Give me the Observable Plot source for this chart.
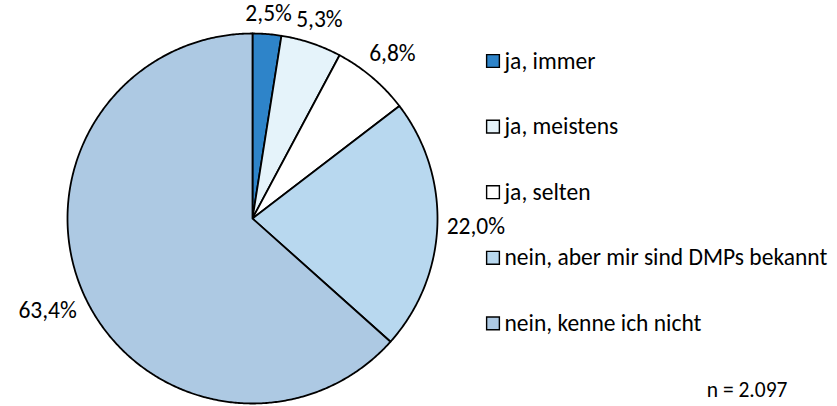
<!DOCTYPE html>
<html><head><meta charset="utf-8">
<script src="https://cdn.jsdelivr.net/npm/d3@7"></script>
<script src="https://cdn.jsdelivr.net/npm/@observablehq/plot@0.6"></script>
<style>
body{margin:0;background:#fff;}
#chart svg{display:block;}
</style></head>
<body><div id="chart"></div>
<script>
// ---- data ----
const categories = ["ja, immer", "ja, meistens", "ja, selten", "nein, aber mir sind DMPs bekannt", "nein, kenne ich nicht"];
const values = [2.5, 5.3, 6.8, 22.0, 63.4];
const valueLabels = ["2,5%", "5,3%", "6,8%", "22,0%", "63,4%"];
const sliceColors = ["#2e84c9", "#e5f3fa", "#ffffff", "#b8d8ef", "#adc9e3"];
const caption = "n = 2.097";

// ---- layout ----
const W = 837, H = 406;
const FONT = "Carlito, Calibri, Lato, sans-serif";
const FS = 23.5;
const pie = {cx: 252, cy: 218, r: 185, gap: 9};
const legend = {x: 492.5, textX: 504, y0: 60.5, step: 65.6};

const total = d3.sum(values);
let acc = 0;
const slices = values.map((v, i) => {
  const a0 = acc / total * 2 * Math.PI;
  acc += v;
  const a1 = acc / total * 2 * Math.PI;
  return {cat: categories[i], color: sliceColors[i], label: valueLabels[i], a0, a1};
});

const px = (a, r) => pie.cx + r * Math.sin(a);
const py = (a, r) => pie.cy - r * Math.cos(a);

const points = [];
for (const s of slices) {
  points.push({cat: s.cat, color: s.color, x: pie.cx, y: pie.cy});
  const n = Math.max(2, Math.ceil((s.a1 - s.a0) / (Math.PI / 360)));
  for (let k = 0; k <= n; k++) {
    const a = s.a0 + (s.a1 - s.a0) * k / n;
    points.push({cat: s.cat, color: s.color, x: px(a, pie.r), y: py(a, pie.r)});
  }
  points.push({cat: s.cat, color: s.color, x: pie.cx, y: pie.cy});
}

// label positions: outside end, box touching the circle at mid angle
const ctx = document.createElement("canvas").getContext("2d");
ctx.font = `${FS}px ${FONT}`;
const labelPts = slices.map(s => {
  const a = (s.a0 + s.a1) / 2;
  const w = ctx.measureText(s.label).width;
  const h = FS * 0.8;
  const rr = pie.r + pie.gap + Math.abs(Math.sin(a)) * w / 2 + Math.abs(Math.cos(a)) * h / 2;
  return {label: s.label, x: px(a, rr), y: py(a, rr)};
});

const legendData = categories.map((c, i) => ({cat: c, color: sliceColors[i], y: legend.y0 + i * legend.step}));

const chart = Plot.plot({
  width: W, height: H,
  margin: 0,
  style: {fontFamily: FONT, fontSize: FS + "px", background: "#fff", color: "#000"},
  x: {type: "linear", domain: [0, W], range: [0, W], axis: null},
  y: {type: "linear", domain: [0, H], range: [0, H], axis: null},
  color: {type: "identity"},
  marks: [
    Plot.line(points, {x: "x", y: "y", z: "cat", fill: "color", stroke: "#000", strokeWidth: 1.8, curve: "linear", strokeLinejoin: "round"}),
    Plot.text(labelPts, {x: "x", y: "y", text: "label", fontSize: FS, fill: "#000", textAnchor: "middle", lineAnchor: "middle"}),
    Plot.dot(legendData, {x: () => legend.x, y: "y", symbol: "square", r: 7.2, fill: "color", stroke: "#000", strokeWidth: 1.4}),
    Plot.text(legendData, {x: () => legend.textX, y: "y", text: "cat", textAnchor: "start", lineAnchor: "middle", fontSize: FS, fill: "#000"}),
    Plot.text([caption], {frameAnchor: "bottom-right", dx: -50, dy: -16, lineAnchor: "middle", fontSize: FS - 2, fill: "#000"})
  ]
});
document.getElementById("chart").appendChild(chart);
</script>
</body></html>
